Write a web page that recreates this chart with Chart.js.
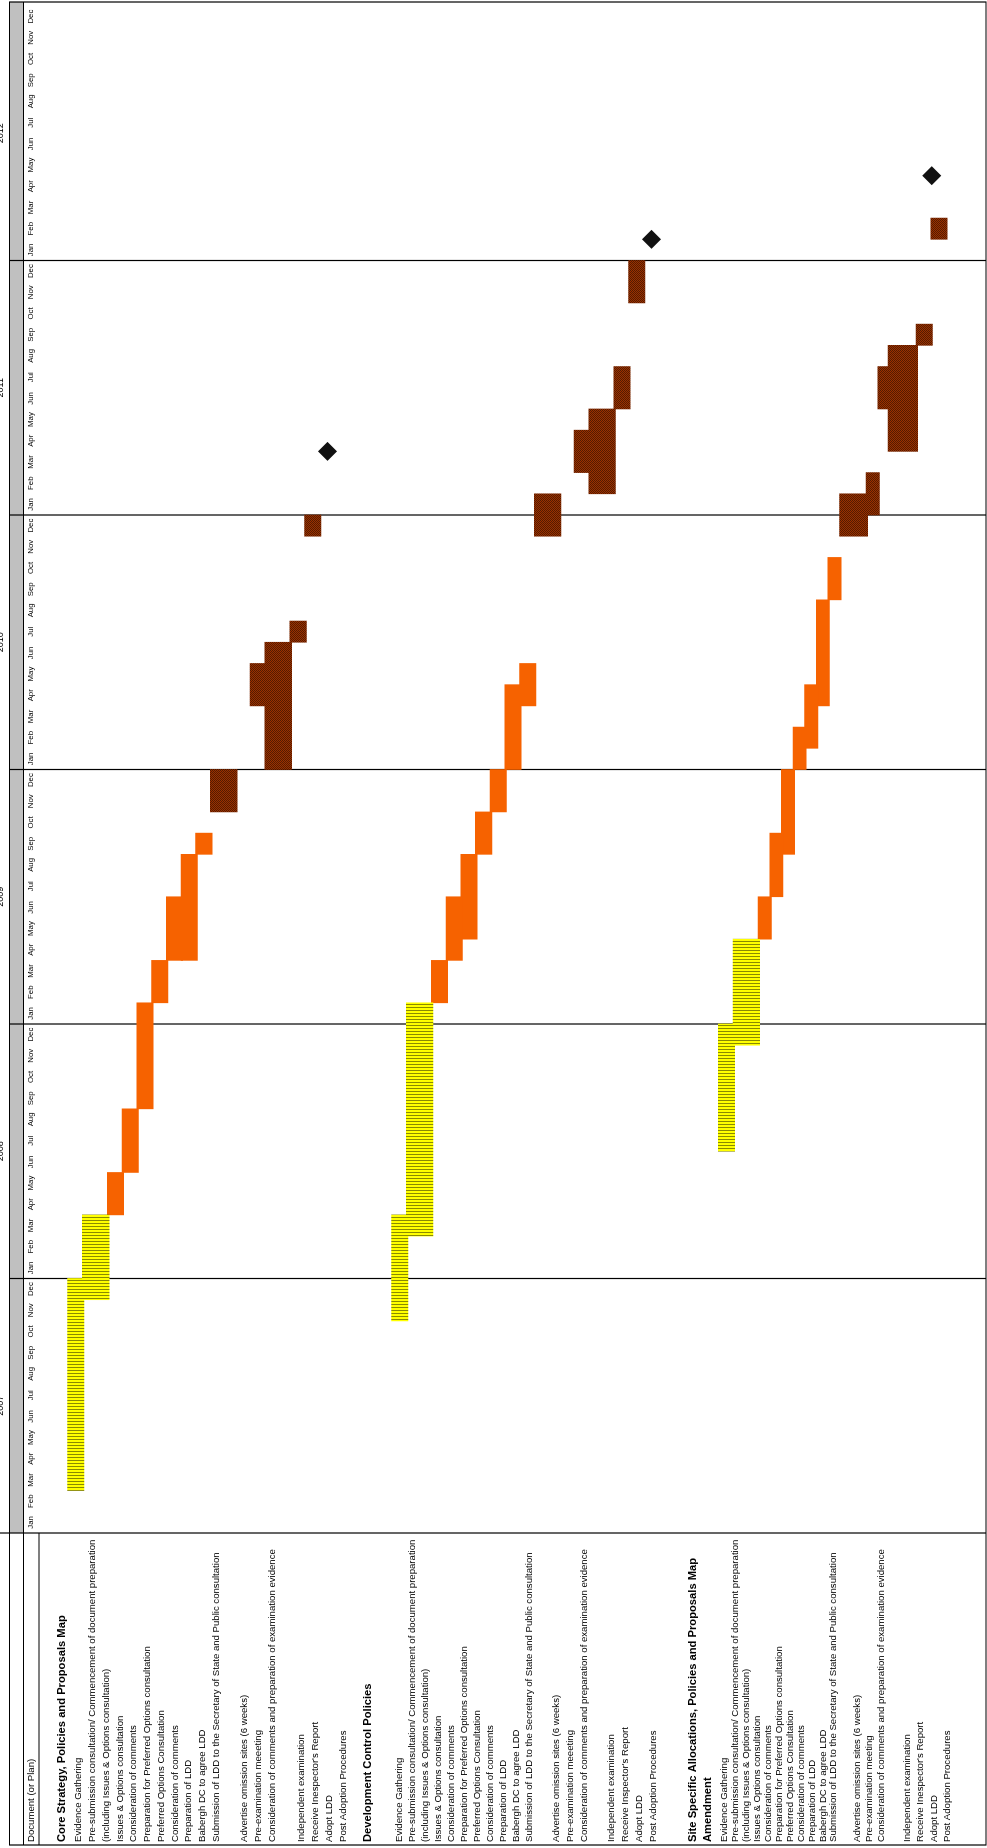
<!DOCTYPE html>
<html>
<head>
<meta charset="utf-8">
<script src="https://cdn.jsdelivr.net/npm/chart.js@4.4.0/dist/chart.umd.min.js"></script>
<style>
  html, body { margin: 0; padding: 0; width: 987px; height: 1848px; overflow: hidden; background: #fff; }
  /* the plan is drawn landscape and turned a quarter to the left, like the printed page */
  #wrap { position: absolute; left: 0; top: 0; width: 1848px; height: 987px;
          transform-origin: 0 0; transform: translate(0, 1848px) rotate(-90deg); }
</style>
</head>
<body>
<div id="wrap"><canvas id="chart" width="1848" height="987"></canvas></div>
<script>
// ---- data ----
const years = ['2007', '2008', '2009', '2010', '2011', '2012'];
const monthNames = ['Jan', 'Feb', 'Mar', 'Apr', 'May', 'Jun', 'Jul', 'Aug', 'Sep', 'Oct', 'Nov', 'Dec'];

const coreTitle = 'Core Strategy, Policies and Proposals Map';
const dcTitle = 'Development Control Policies';
const siteTitle = ['Site Specific Allocations, Policies and Proposals Map', 'Amendment'];

const coreRows = [
  'Evidence Gathering',
  'Pre-submission consultation/ Commencement of document preparation',
  '(including Issues & Options consultation)',
  'Issues & Options consultation',
  'Consideration of comments',
  'Preparation for Preferred Options consultation',
  'Preferred Options Consultation',
  'Consideration of comments',
  'Preparation of LDD',
  'Babergh DC to agree LDD',
  'Submission of LDD to the Secretary of State and Public consultation',
  'Advertise omission sites (6 weeks)',
  'Pre-examination meeeting',
  'Consideration of comments and preparation of examination evidence',
  'Independent examination',
  "Receive Inespector's Report",
  'Adopt LDD',
  'Post Adoption Procedures'
];
const dcRows = [
  'Evidence Gathering',
  'Pre-submission consultation/ Commencement of document preparation',
  '(including Issues & Options consultation)',
  'Issues & Options consultation',
  'Consideration of comments',
  'Preparation for Preferred Options consultation',
  'Preferred Options Consultation',
  'Consideration of comments',
  'Preparation of LDD',
  'Babergh DC to agree LDD',
  'Submission of LDD to the Secretary of State and Public consultation',
  'Advertise omission sites (6 weeks)',
  'Pre-examination meeeting',
  'Consideration of comments and preparation of examination evidence',
  'Independent examination',
  "Receive Inspector's Report",
  'Adopt LDD',
  'Post Adoption Procedures'
];
const siteRows = [
  'Evidence Gathering',
  'Pre-submission consultation/ Commencement of document preparation',
  '(including Issues & Options consultation)',
  'Issues & Options consultation',
  'Consideration of comments',
  'Preparation for Preferred Options consultation',
  'Preferred Options Consultation',
  'Consideration of comments',
  'Preparation of LDD',
  'Babergh DC to agree LDD',
  'Submission of LDD to the Secretary of State and Public consultation',
  'Advertise omission sites (6 weeks)',
  'Pre-examination meeting',
  'Consideration of comments and preparation of examination evidence',
  'Independent examination',
  "Receive Inespector's Report",
  'Adopt LDD',
  'Post Adoption Procedures'
];

// months counted from Jan 2007 (0); end is exclusive. Task order:
// evidence, pre-sub, issues, comments, prep PO, PO consult, comments, prep LDD, agree,
// submission, advertise, pre-exam, exam evidence, examination, report
const coreStart = [2, 11, 15, 17, 20, 25, 27, 27, 32, 34, null, 39, 36, 42, 47];
const coreEnd   = [12, 15, 17, 20, 25, 27, 30, 32, 33, 36, null, 41, 42, 43, 48];
const coreAdopt = 51;

const dcStart = [10, 14, 25, 27, 28, 32, 34, 36, 39, 47, null, 50, 49, 53, 58];
const dcEnd   = [15, 25, 27, 30, 32, 34, 36, 40, 41, 49, null, 52, 53, 55, 60];
const dcAdopt = 61;

const siteStart = [18, 23, 28, 30, 32, 36, 37, 39, 44, 47, 48, 53, 51, 56, 61];
const siteEnd   = [24, 28, 30, 33, 36, 38, 40, 44, 46, 49, 50, 55, 56, 57, 62];
const siteAdopt = 64;

// ---- layout ----
const TOP = 39, BOTTOM = 985, EDGE = 1846;
const LANES = 64;
const PITCH = (BOTTOM - TOP) / LANES;
// lane widths in lanes, one per task plus the adoption milestone
const laneCore = [1, 1.7, 1, 1, 1, 1, 1, 1, 1, 1.7, 1, 1, 1.7, 1, 1, 1];
const laneSite = [1, 1.7, .79, .79, .79, .79, .79, .79, .79, 1.8, .8, .7, 1.9, 1, 1, 0];

function stripes() {
  const c = document.createElement('canvas');
  c.width = 3; c.height = 1;
  const g = c.getContext('2d');
  g.fillStyle = '#ffff00'; g.fillRect(0, 0, 3, 1);
  g.fillStyle = '#8a8a00'; g.fillRect(0, 0, 1, 1);
  return g.createPattern(c, 'repeat');
}
function checker() {
  const c = document.createElement('canvas');
  c.width = 2; c.height = 2;
  const g = c.getContext('2d');
  g.fillStyle = '#9a3200'; g.fillRect(0, 0, 2, 2);
  g.fillStyle = '#561a00'; g.fillRect(1, 0, 1, 1); g.fillRect(0, 1, 1, 1);
  return g.createPattern(c, 'repeat');
}
const yellowFill = stripes();
const brownFill = checker();
const orangeFill = '#f66200';
function fillFor(i) {
  if (i < 2) return yellowFill;
  if (i < 9) return orangeFill;
  return brownFill;
}

const sections = [
  { start: coreStart, end: coreEnd, adopt: coreAdopt, lanes: laneCore, origin: 2 },
  { start: dcStart, end: dcEnd, adopt: dcAdopt, lanes: laneCore, origin: 24 },
  { start: siteStart, end: siteEnd, adopt: siteAdopt, lanes: laneSite, origin: 46.2 }
];

const datasets = [];
sections.forEach(sec => {
  let pos = sec.origin, prevStart = pos;
  sec.lanes.forEach((w, i) => {
    // a zero width lane sits on the edge of the lane before it
    const mid = w ? pos + w / 2 : prevStart;
    if (i < sec.start.length && sec.start[i] !== null) {
      datasets.push({
        type: 'bar',
        data: [{ x: [sec.start[i], sec.end[i]], y: mid }],
        backgroundColor: fillFor(i),
        borderWidth: 0,
        barThickness: w * PITCH + 1.6,
        grouped: false,
        xAxisID: 'x', yAxisID: 'lane'
      });
    }
    if (i === sec.start.length) {
      datasets.push({
        type: 'scatter',
        data: [{ x: sec.adopt, y: mid }],
        pointStyle: 'rectRot',
        pointRadius: 9.5,
        backgroundColor: '#111',
        borderWidth: 0,
        order: -1,
        xAxisID: 'x', yAxisID: 'lane'
      });
    }
    if (w) prevStart = pos;
    pos += w;
  });
});

// label column: one category axis per block of rows, stacked down the left side,
// h is the block height in px; blank rows only space the text out
const titles = [coreTitle, dcTitle, ...siteTitle];
const blocks = [
  { rows: ['', '', '', coreTitle, ''], h: 33.1 },
  { rows: coreRows.slice(0, 11), h: 151.8 },
  { rows: ['', ...coreRows.slice(11, 14), '', ...coreRows.slice(14)], h: 128.25 },
  { rows: ['', '', dcTitle, '', '', ''], h: 41.9 },
  { rows: dcRows.slice(0, 11), h: 144 },
  { rows: ['', ...dcRows.slice(11, 14), '', ...dcRows.slice(14)], h: 124.2 },
  { rows: ['', '', '', '', siteTitle[0], '', siteTitle[1], ''], h: 59.25 },
  { rows: siteRows.slice(0, 11), h: 121 },
  { rows: ['', ...siteRows.slice(11, 14)], h: 48 },
  { rows: ['', ...siteRows.slice(14), '', ''], h: 94.5 }
];

const FONT = 'Liberation Sans, Arial, sans-serif';
Chart.defaults.font.family = FONT;
Chart.defaults.color = '#000';

const scales = {
  x: { type: 'linear', min: 0, max: 72, display: false },
  lane: { type: 'linear', position: 'right', min: 0, max: LANES, reverse: true, offset: false, display: false },
  years: {
    type: 'category', position: 'top', labels: years, offset: true, weight: 2,
    grid: { display: false, drawTicks: false }, border: { display: false },
    ticks: { font: { size: 9 }, padding: 18, maxRotation: 0 },
    afterFit: s => { s.height = 23.5; }
  },
  months: {
    type: 'category', position: 'top', labels: years.flatMap(() => monthNames), offset: true, weight: 1,
    grid: { display: false, drawTicks: false }, border: { display: false },
    ticks: { font: { size: 7.8 }, padding: 3.2, autoSkip: false, maxRotation: 0, minRotation: 0 },
    afterFit: s => { s.height = TOP - 23.5; }
  }
};
blocks.forEach((b, i) => {
  scales['rows' + i] = {
    type: 'category', position: 'left', stack: 'rows', stackWeight: b.h, weight: 100 - i,
    labels: b.rows, offset: true,
    grid: { display: false, drawTicks: false }, border: { display: false },
    ticks: {
      crossAlign: 'far', autoSkip: false, padding: 0,
      font: c => titles.includes(c.tick.label) ? { size: 11.2, weight: 'bold' } : { size: 9.6 }
    },
    afterFit: s => { s.width = 309; }
  };
});

// table rules, header band and year dividers
const tableFrame = {
  id: 'tableFrame',
  beforeDatasetsDraw(chart) {
    const { ctx, chartArea: a } = chart;
    const x = chart.scales.x;
    ctx.save();
    ctx.fillStyle = '#c0c0c0';
    ctx.fillRect(a.left, 9.5, EDGE - a.left, 14);
    ctx.strokeStyle = '#000';
    ctx.lineWidth = 1.2;
    ctx.beginPath();
    ctx.rect(3, 9.5, EDGE - 3, 986 - 9.5);
    ctx.moveTo(3, 23.5); ctx.lineTo(EDGE, 23.5);
    ctx.moveTo(3, TOP); ctx.lineTo(a.left, TOP);
    ctx.moveTo(a.left, 0); ctx.lineTo(a.left, 986);
    for (let m = 12; m < 72; m += 12) {
      const px = x.getPixelForValue(m);
      ctx.moveTo(px, 9.5); ctx.lineTo(px, 986);
    }
    ctx.stroke();
    ctx.fillStyle = '#000';
    ctx.font = '9.6px ' + FONT;
    ctx.textBaseline = 'middle';
    ctx.fillText('Document (or Plan)', 6, 31.5);
    ctx.restore();
  }
};

new Chart(document.getElementById('chart'), {
  type: 'bar',
  data: { datasets },
  options: {
    indexAxis: 'y',
    responsive: false,
    animation: false,
    layout: { autoPadding: false, padding: { left: 6, right: EDGE - 1842 + 2, top: 0, bottom: 987 - BOTTOM } },
    plugins: { legend: { display: false }, tooltip: { enabled: false } },
    scales
  },
  plugins: [tableFrame]
});
</script>
</body>
</html>
